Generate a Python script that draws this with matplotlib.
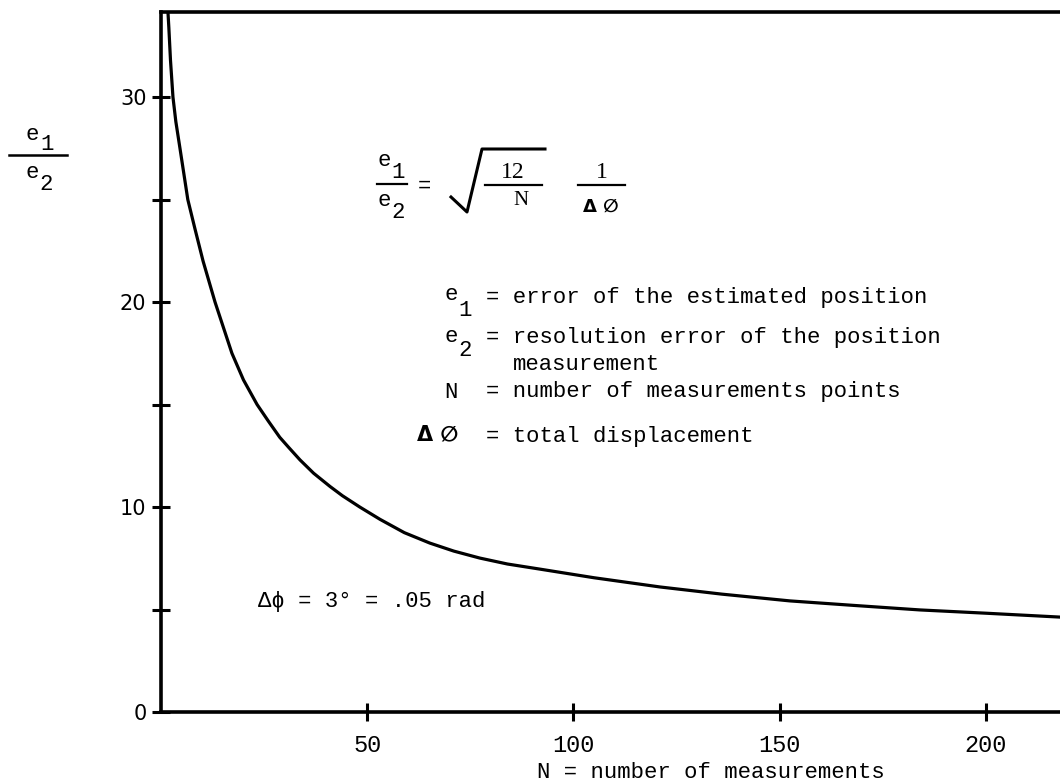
import matplotlib
matplotlib.use("Agg")
import matplotlib.pyplot as plt
from matplotlib.lines import Line2D

# values
n_points = [1.7, 1.9, 2.3, 2.9, 3.6, 4.6, 6.5, 8.2, 10.2, 13.1, 17.2, 20.0,
            23.3, 26.0, 28.8, 31.0, 33.7, 37.0, 41.0, 44.0, 48.2, 53.1,
            59.0, 65.2, 71.0, 77.3, 84.0, 91.9, 105, 121, 136, 152.5,
            168, 184, 200, 218]
ratio = [34.1, 33.4, 31.8, 30.0, 28.8, 27.5, 25.0, 23.6, 22.0, 20.0, 17.5,
         16.2, 15.0, 14.2, 13.4, 12.9, 12.3, 11.65, 11.0, 10.55, 10.0, 9.4,
         8.75, 8.24, 7.85, 7.51, 7.22, 6.97, 6.55, 6.1, 5.75, 5.42,
         5.2, 4.98, 4.82, 4.63]

x_ticks = [50, 100, 150, 200]
y_ticks = [0, 5, 10, 15, 20, 25, 30]
y_tick_labels = ["0", "", "10", "", "20", "", "30"]

W, H = 1060, 782
MONO = ["Liberation Mono", "DejaVu Sans Mono"]
SERIF = ["Liberation Serif", "DejaVu Serif"]


def px(x, y):
    return x / W, 1 - y / H


fig = plt.figure(figsize=(W / 100, H / 100), dpi=100)
ax = fig.add_axes([161 / W, (H - 712) / H, (W - 161) / W, 700 / H])

ax.plot(n_points, ratio, color="black", lw=2.3,
        solid_capstyle="round", solid_joinstyle="round")

ax.set_xlim(0, 218)
ax.set_ylim(0, 34.15)
ax.set_xticks(x_ticks)
ax.set_xticklabels([str(t) for t in x_ticks], fontfamily=MONO, fontsize=17)
ax.set_yticks(y_ticks)
ax.set_yticklabels(y_tick_labels, fontfamily="DejaVu Sans", fontsize=15)
ax.tick_params(axis="both", direction="inout", length=13, width=2.2, colors="black")
ax.tick_params(axis="x", pad=9)
ax.tick_params(axis="y", pad=4)
for s in ["left", "bottom", "top"]:
    ax.spines[s].set_linewidth(2.6)
ax.spines["right"].set_visible(False)

# y label: e1 / e2
fig.text(*px(32, 134), "e", fontfamily=MONO, fontsize=16, ha="center", va="center")
fig.text(*px(47, 145), "1", fontfamily=MONO, fontsize=16, ha="center", va="center")
fig.add_artist(Line2D([9 / W, 67 / W], [1 - 155 / H, 1 - 155 / H], color="black", lw=1.8))
fig.text(*px(32, 172), "e", fontfamily=MONO, fontsize=16, ha="center", va="center")
fig.text(*px(46, 184), "2", fontfamily=MONO, fontsize=16, ha="center", va="center")

# formula
fig.text(*px(384, 160), "e", fontfamily=MONO, fontsize=16, ha="center", va="center")
fig.text(*px(398, 172), "1", fontfamily=MONO, fontsize=16, ha="center", va="center")
fig.add_artist(Line2D([377 / W, 407 / W], [1 - 184 / H] * 2, color="black", lw=1.6))
fig.text(*px(384, 201), "e", fontfamily=MONO, fontsize=16, ha="center", va="center")
fig.text(*px(398, 213), "2", fontfamily=MONO, fontsize=16, ha="center", va="center")
fig.text(*px(424, 186), "=", fontfamily=MONO, fontsize=16, ha="center", va="center")
fig.add_artist(Line2D([451 / W, 467 / W, 482 / W, 545 / W],
                      [1 - 197 / H, 1 - 212 / H, 1 - 149 / H, 1 - 149 / H],
                      color="black", lw=2.2))
fig.text(*px(513, 172), "12", fontfamily=SERIF, fontsize=17, ha="center", va="center")
fig.add_artist(Line2D([485 / W, 542 / W], [1 - 185 / H] * 2, color="black", lw=1.6))
fig.text(*px(521, 201), "N", fontfamily=SERIF, fontsize=15, ha="center", va="center")
fig.text(*px(602, 172), "1", fontfamily=SERIF, fontsize=17, ha="center", va="center")
fig.add_artist(Line2D([578 / W, 625 / W], [1 - 185 / H] * 2, color="black", lw=1.6))
fig.text(*px(601, 207), "Δ ∅", fontfamily="DejaVu Sans", fontweight="bold",
         fontsize=13, ha="center", va="center")

# legend of symbols
fig.text(*px(451, 295), "e", fontfamily=MONO, fontsize=16, ha="center", va="center")
fig.text(*px(465, 310), "1", fontfamily=MONO, fontsize=16, ha="center", va="center")
fig.text(*px(486, 297), "= error of the estimated position", fontfamily=MONO,
         fontsize=16, ha="left", va="center")
fig.text(*px(451, 337), "e", fontfamily=MONO, fontsize=16, ha="center", va="center")
fig.text(*px(465, 351), "2", fontfamily=MONO, fontsize=16, ha="center", va="center")
fig.text(*px(486, 338), "= resolution error of the position", fontfamily=MONO,
         fontsize=16, ha="left", va="center")
fig.text(*px(513, 364), "measurement", fontfamily=MONO, fontsize=16, ha="left", va="center")
fig.text(*px(451, 392), "N", fontfamily=MONO, fontsize=16, ha="center", va="center")
fig.text(*px(486, 392), "= number of measurements points", fontfamily=MONO,
         fontsize=16, ha="left", va="center")
fig.text(*px(438, 434), "Δ ∅", fontfamily="DejaVu Sans", fontweight="bold",
         fontsize=15, ha="center", va="center")
fig.text(*px(486, 436), "= total displacement", fontfamily=MONO,
         fontsize=16, ha="left", va="center")

fig.text(*px(258, 602), "Δϕ = 3° = .05 rad", fontfamily=MONO + ["DejaVu Sans"],
         fontsize=16, ha="left", va="center")

fig.text(*px(537, 772), "N = number of measurements", fontfamily=MONO,
         fontsize=16, ha="left", va="center")

fig.savefig("out.png", dpi=100)
